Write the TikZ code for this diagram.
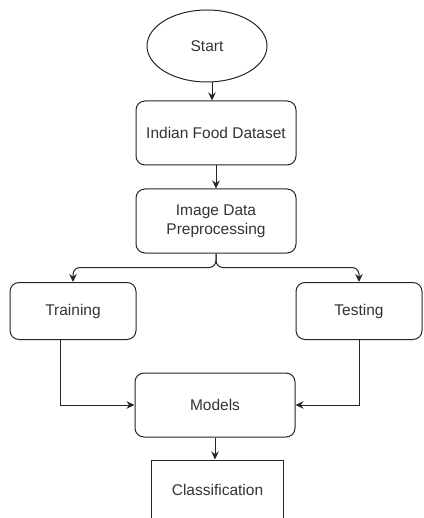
\documentclass[tikz,border=0pt]{standalone}
\usepackage{fontspec}
\setmainfont{Liberation Sans}
\usepackage{tikz}
\usetikzlibrary{shapes.geometric, arrows.meta, positioning}

\begin{document}
\begin{tikzpicture}[
    x=1pt, y=-1pt,
    term/.style={ellipse, draw=black!85, line width=1pt, minimum width=120pt, minimum height=72pt, font=\fontsize{15.5}{18}\selectfont, text=black!80},
    proc/.style={rectangle, rounded corners=9pt, draw=black!85, line width=1pt, minimum width=160pt, minimum height=64pt, align=center, font=\fontsize{15.5}{19}\selectfont, text=black!80},
    side/.style={proc, minimum width=126pt, minimum height=57pt},
    plain/.style={proc, rounded corners=0pt, minimum width=132.5pt, minimum height=60pt},
    arrow/.style={-{Stealth[length=8pt, width=7.5pt]}, line width=1pt, draw=black!85}
]
\useasboundingbox (0,0) rectangle (423,518);

%% ── Main column ──────────────────────────────────────────────────────
\node[term] (start)   at (207, 46)  {Start};
\node[proc] (dataset) at (216,133)  {Indian Food Dataset};
\node[proc] (prep)    at (216,221)  {Image Data\\Preprocessing};

%% ── Split ────────────────────────────────────────────────────────────
\node[side] (train) at ( 73,311) {Training};
\node[side] (test)  at (359,311) {Testing};

%% ── Merge ────────────────────────────────────────────────────────────
\node[proc]  (models) at (215,405) {Models};
\node[plain] (classif) at (217.5,490) {Classification};

%% ── Arrows ───────────────────────────────────────────────────────────
\draw[arrow] ([xshift=5pt]start.south) -- ([xshift=5pt]start.south |- dataset.north);
\draw[arrow] (dataset) -- (prep);

%% branch with rounded bends
\draw[arrow, rounded corners=7pt] (prep.south) -- ++(0,14) -| (train.north);
\draw[arrow, rounded corners=7pt] (prep.south) -- ++(0,14) -| (test.north);

%% into Models from both sides
\draw[arrow] ([xshift=-13pt]train.south) |- (models.west);
\draw[arrow] (test.south) |- (models.east);

\draw[arrow] (models.south) -- (models.south |- classif.north);

\end{tikzpicture}
\end{document}
